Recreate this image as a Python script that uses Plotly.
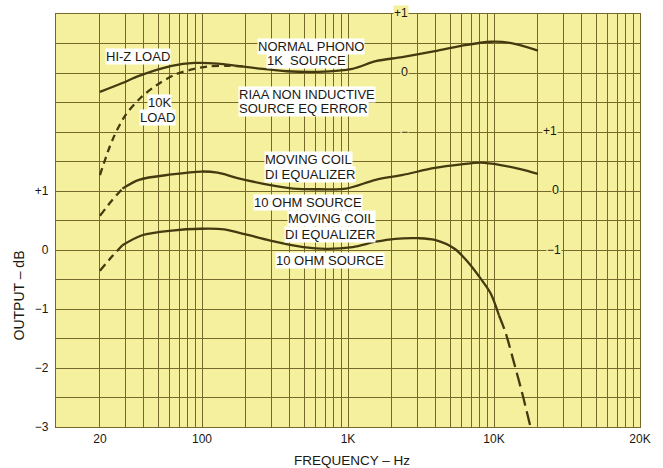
import plotly.graph_objects as go

# ---------------- data (each curve in dB relative to its own 0 reference) ----------------
# Normal phono, 1K source, Hi-Z load (own scale: 0 sits at +3 on the main scale)
hiz_freq = [20, 28.5, 37, 62, 89, 128, 175, 239, 380, 630, 1070, 1550, 2350, 3940, 5960, 9550, 12900, 20000]
hiz_db = [-0.32, -0.17, -0.05, 0.12, 0.17, 0.16, 0.12, 0.08, 0.03, 0.02, 0.07, 0.20, 0.27, 0.37, 0.46, 0.53, 0.51, 0.38]

# Same, 10K load (dashed)
load10k_freq = [20, 24.4, 30, 38, 48, 65, 85, 110, 150, 200]
load10k_db = [-1.73, -1.13, -0.71, -0.42, -0.22, -0.03, 0.06, 0.11, 0.12, 0.11]

# Moving coil DI equalizer, 10 ohm source (own scale: 0 sits at +1 on the main scale)
mc1_lo_freq = [20, 24, 28.5]
mc1_lo_db = [-0.42, -0.17, 0.04]
mc1_freq = [28.5, 37, 62, 99, 128, 175, 294, 423, 640, 969, 1546, 2345, 3933, 5957, 8128, 11100, 15140, 20000]
mc1_db = [0.04, 0.19, 0.28, 0.33, 0.31, 0.22, 0.10, 0.04, 0.03, 0.04, 0.19, 0.27, 0.39, 0.45, 0.48, 0.44, 0.37, 0.29]

# Moving coil DI equalizer, 10 ohm source (main scale)
mc2_lo_freq = [20, 24, 28.5]
mc2_lo_db = [-0.35, -0.12, 0.08]
mc2_freq = [28.5, 38.9, 62, 99, 142, 175, 294, 494, 710, 1077, 1546, 2110, 3030, 3933, 5370, 6600, 8128, 9510, 10820]
mc2_db = [0.08, 0.25, 0.33, 0.36, 0.35, 0.30, 0.16, 0.05, 0.02, 0.05, 0.14, 0.19, 0.20, 0.17, 0.02, -0.20, -0.49, -0.74, -1.11]
mc2_hi_freq = [10820, 12000, 13500, 15500, 17700]
mc2_hi_db = [-1.11, -1.40, -1.85, -2.40, -2.98]

# offsets of each curve's own scale on the main dB axis
HIZ_OFFSET = 3
MC1_OFFSET = 1
MC2_OFFSET = 0

# axis ticks
x_tick_vals = [m * 10 ** e for e in range(1, 5) for m in range(1, 10)] + [100000]
x_tick_labels = {20: "20", 100: "100", 1000: "1K", 10000: "10K", 100000: "20K"}
y_tick_vals = [v / 2 for v in range(-6, 9)]
y_tick_labels = {-3: "\u22123", -2: "\u22122", -1: "\u22121", 0: "0", 1: "+1"}

# ---------------- style ----------------
PLOT_BG = "#f5f09e"
GRID = "#76682a"
INK = "#433a10"
TXT = "#1a1810"
FONT = "Liberation Sans, Arial, sans-serif"

L, R, T, B, W, H = 56, 15, 14, 41, 663, 468
PW, PH = W - L - R, H - T - B


def paper(xp, yp):
    return (xp - L) / PW, (H - B - yp) / PH


fig = go.Figure()


def add_curve(xs, ys, offset, dash="solid"):
    fig.add_trace(go.Scatter(
        x=xs, y=[v + offset for v in ys], mode="lines",
        line=dict(color=INK, width=2.3, dash=dash, shape="spline", smoothing=0.9),
        hoverinfo="skip", showlegend=False))


add_curve(hiz_freq, hiz_db, HIZ_OFFSET)
add_curve(load10k_freq, load10k_db, HIZ_OFFSET, "7px,5px")
add_curve(mc1_lo_freq, mc1_lo_db, MC1_OFFSET, "8px,5px")
add_curve(mc1_freq, mc1_db, MC1_OFFSET)
add_curve(mc2_lo_freq, mc2_lo_db, MC2_OFFSET, "8px,5px")
add_curve(mc2_freq, mc2_db, MC2_OFFSET)
add_curve(mc2_hi_freq, mc2_hi_db, MC2_OFFSET, "14px,6px")

annotations = []


def label(text, xp, yp, size=13, bg="white", color=TXT, pad=0):
    x, y = paper(xp, yp)
    annotations.append(dict(
        text=text, x=x, y=y, xref="paper", yref="paper", showarrow=False,
        xanchor="center", yanchor="middle", bgcolor=bg, borderpad=pad,
        font=dict(family=FONT, size=size, color=color)))


# curve captions (white paper patches)
label("HI-Z LOAD", 139, 57)
label("10K", 161, 102)
label("LOAD", 159, 117)
label("NORMAL PHONO", 314, 46)
label("1K  SOURCE", 310, 61)
label("RIAA NON INDUCTIVE", 310, 94)
label("SOURCE EQ ERROR", 307, 109)
label("MOVING COIL", 312, 159)
label("DI EQUALIZER", 313, 174)
label("10 OHM SOURCE", 311, 202)
label("MOVING COIL", 335, 219)
label("DI EQUALIZER", 334, 234)
label("10 OHM SOURCE", 334, 260)

# secondary scale marks for the shifted curves
label("+1", 406, 13, size=12, bg=PLOT_BG)
label("0", 409, 72, size=12.5, bg=PLOT_BG)
label("\u2212", 409, 132, size=12, bg=PLOT_BG)
label("+1", 557, 131, size=12, bg=PLOT_BG)
label("0", 562, 190, size=12.5, bg=PLOT_BG)
label("\u22121", 561, 250, size=12, bg=PLOT_BG)

# axis titles
xt, yt = paper(356, 460)
annotations.append(dict(text="FREQUENCY \u2013 Hz", x=xt, y=yt, xref="paper", yref="paper",
                        showarrow=False, xanchor="center", yanchor="middle",
                        font=dict(family=FONT, size=13.5, color=TXT)))
xt, yt = paper(18, 296)
annotations.append(dict(text="OUTPUT \u2013 dB", x=xt, y=yt, xref="paper", yref="paper",
                        showarrow=False, textangle=-90, xanchor="center", yanchor="middle",
                        font=dict(family=FONT, size=14, color=TXT)))

fig.update_layout(
    width=W, height=H,
    margin=dict(l=L, r=R, t=T, b=B, pad=0),
    paper_bgcolor="white", plot_bgcolor=PLOT_BG,
    annotations=annotations,
    font=dict(family=FONT, color=TXT),
    hovermode=False,
)
fig.update_xaxes(
    type="log", range=[1, 5],
    tickmode="array", tickvals=x_tick_vals,
    ticktext=[x_tick_labels.get(v, "") for v in x_tick_vals],
    tickfont=dict(size=12, color=TXT), tickangle=0,
    showgrid=True, gridcolor=GRID, gridwidth=1,
    showline=True, linecolor=GRID, linewidth=1.2, mirror=True,
    ticks="", zeroline=False,
)
fig.update_yaxes(
    range=[-3, 4],
    tickmode="array", tickvals=y_tick_vals,
    ticktext=[y_tick_labels.get(v, "") if float(v).is_integer() else "" for v in y_tick_vals],
    tickfont=dict(size=12, color=TXT), ticklabelstandoff=4,
    showgrid=True, gridcolor=GRID, gridwidth=1,
    showline=True, linecolor=GRID, linewidth=1.2, mirror=True,
    ticks="", zeroline=False,
)

fig.write_html(
    "out.html",
    config={"displayModeBar": False, "staticPlot": True},
    post_script="document.body.style.margin='0';document.body.style.overflow='hidden';",
)
